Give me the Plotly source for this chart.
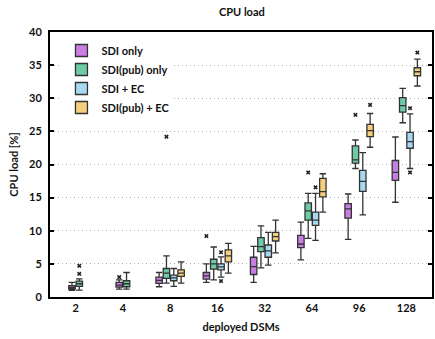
import plotly.graph_objects as go

categories = ["2", "4", "8", "16", "32", "64", "96", "128"]
series = ["SDI only", "SDI(pub) only", "SDI + EC", "SDI(pub) + EC"]
colors = ["#c97ee3", "#6fcaa6", "#a9d9f2", "#f5cf7e"]

# per-series box statistics over categories (None = not measured)
sdi_lf  = [1.0, 1.2, 1.55, 2.2, 2.2, 5.6, 8.7, 14.3]
sdi_q1  = [1.2, 1.5, 2.05, 2.7, 3.4, 7.45, 11.9, 17.6]
sdi_med = [1.4, 1.8, 2.5, 3.2, 4.6, 8.0, 13.3, 18.8]
sdi_q3  = [1.7, 2.2, 3.0, 3.7, 6.0, 9.3, 14.1, 20.6]
sdi_uf  = [2.2, 2.6, 3.7, 5.0, 7.65, 11.3, 15.55, 24.15]
sdi_out = [[], [3.0], [], [9.2], [], [], [], []]

pub_lf  = [1.05, 1.2, 2.1, 2.6, 4.4, 8.85, 19.4, 26.3]
pub_q1  = [1.6, 1.55, 2.8, 4.2, 6.85, 11.6, 20.2, 27.9]
pub_med = [2.0, 2.0, 3.6, 5.0, 7.6, 13.0, 20.7, 28.9]
pub_q3  = [2.4, 2.45, 4.3, 5.7, 8.95, 14.2, 22.8, 30.1]
pub_uf  = [2.75, 3.7, 6.2, 7.55, 10.75, 15.65, 23.7, 31.5]
pub_out = [[3.5, 4.7], [], [24.2], [], [], [18.8], [27.5], []]

ec_lf  = [None, None, 1.6, 3.0, 4.8, 8.55, 12.4, 19.4]
ec_q1  = [None, None, 2.45, 4.1, 6.0, 10.8, 15.95, 22.45]
ec_med = [None, None, 2.9, 4.55, 6.95, 11.6, 17.45, 23.45]
ec_q3  = [None, None, 3.3, 5.0, 7.85, 12.8, 19.1, 24.85]
ec_uf  = [None, None, 4.3, 6.05, 9.75, 15.65, 21.8, 27.65]
ec_out = [[], [], [], [6.75, 2.4], [], [16.55], [], [28.5, 18.8]]

pubec_lf  = [None, None, 2.1, 3.6, 6.65, 12.8, 22.6, 31.85]
pubec_q1  = [None, None, 3.1, 5.3, 8.45, 15.1, 24.2, 33.4]
pubec_med = [None, None, 3.6, 6.2, 9.1, 15.9, 25.1, 34.0]
pubec_q3  = [None, None, 4.1, 7.1, 9.75, 17.9, 26.05, 34.6]
pubec_uf  = [None, None, 5.3, 8.1, 11.6, 18.6, 27.7, 35.9]
pubec_out = [[], [], [], [], [], [], [29.0], [36.9]]

stats = [
    (sdi_lf, sdi_q1, sdi_med, sdi_q3, sdi_uf, sdi_out),
    (pub_lf, pub_q1, pub_med, pub_q3, pub_uf, pub_out),
    (ec_lf, ec_q1, ec_med, ec_q3, ec_uf, ec_out),
    (pubec_lf, pubec_q1, pubec_med, pubec_q3, pubec_uf, pubec_out),
]

FONT = "Lato"
n_series = len(series)

# number of series present in each category -> centering shift of slots
present = [sum(1 for s in stats if s[2][ci] is not None) for ci in range(len(categories))]
shifts = [(n_series - p) // 2 for p in present]

fig = go.Figure()


def add_box(si, shift, show):
    lf, q1, med, q3, uf, out = stats[si]
    idx = [ci for ci in range(len(categories)) if med[ci] is not None and shifts[ci] == shift]
    if not idx:
        return
    # sample points: median plus any outliers (only outliers are drawn)
    ys = [[med[ci]] + out[ci] for ci in idx]
    fig.add_trace(go.Box(
        name=series[si],
        legendgroup=series[si],
        showlegend=show,
        x=[categories[ci] for ci in idx],
        y=ys,
        q1=[q1[ci] for ci in idx],
        median=[med[ci] for ci in idx],
        q3=[q3[ci] for ci in idx],
        lowerfence=[lf[ci] for ci in idx],
        upperfence=[uf[ci] for ci in idx],
        orientation="v",
        boxpoints="outliers",
        jitter=0,
        pointpos=0,
        whiskerwidth=1,
        fillcolor=colors[si],
        line=dict(color="#333333", width=1.3),
        marker=dict(symbol="x", size=4, color="#222222",
                    outliercolor="#222222", line=dict(width=0)),
        offsetgroup=str(si + shift),
        alignmentgroup="all",
        hoverinfo="skip",
    ))


for si in range(n_series):
    add_box(si, 0, True)
for shift in sorted(set(shifts)):
    if shift == 0:
        continue
    for si in range(n_series):
        add_box(si, shift, False)

fig.update_layout(
    width=435, height=339,
    margin=dict(l=50, r=1, t=32, b=42),
    paper_bgcolor="white", plot_bgcolor="white",
    font=dict(family=FONT, size=11, color="#111111", weight="bold"),
    title=dict(text="<b>CPU load</b>", x=0.556, xanchor="center",
               y=0.965, yanchor="middle", font=dict(family=FONT, size=11)),
    boxmode="group", boxgap=0.38, boxgroupgap=0.12,
    showlegend=True,
    legend=dict(x=0.03, y=0.985, xanchor="left", yanchor="top",
                bgcolor="white", borderwidth=0, tracegroupgap=0,
                font=dict(family=FONT, size=11, weight="bold"),
                itemwidth=30),
    xaxis=dict(
        type="category", categoryorder="array", categoryarray=categories,
        showline=True, linecolor="black", linewidth=2, mirror=True,
        ticks="", showgrid=False,
        tickfont=dict(family=FONT, size=11, weight="bold"),
        title=dict(text="<b>deployed DSMs</b>", standoff=10,
                   font=dict(family=FONT, size=11)),
    ),
    yaxis=dict(
        range=[0, 40], dtick=5, tick0=0,
        showline=True, linecolor="black", linewidth=2, mirror="ticks",
        ticks="inside", ticklen=4, tickwidth=1.5, tickcolor="black",
        showgrid=True, gridcolor="#b0b0b0", gridwidth=1, griddash="1px,3px",
        zeroline=False,
        ticklabelstandoff=4,
        tickfont=dict(family=FONT, size=11, weight="bold"),
        title=dict(text="<b>CPU load [%]</b>", standoff=8,
                   font=dict(family=FONT, size=11)),
    ),
)

fig.write_html("out.html",
               config={"displayModeBar": False},
               post_script="document.body.style.margin='0';document.body.style.padding='0';")
